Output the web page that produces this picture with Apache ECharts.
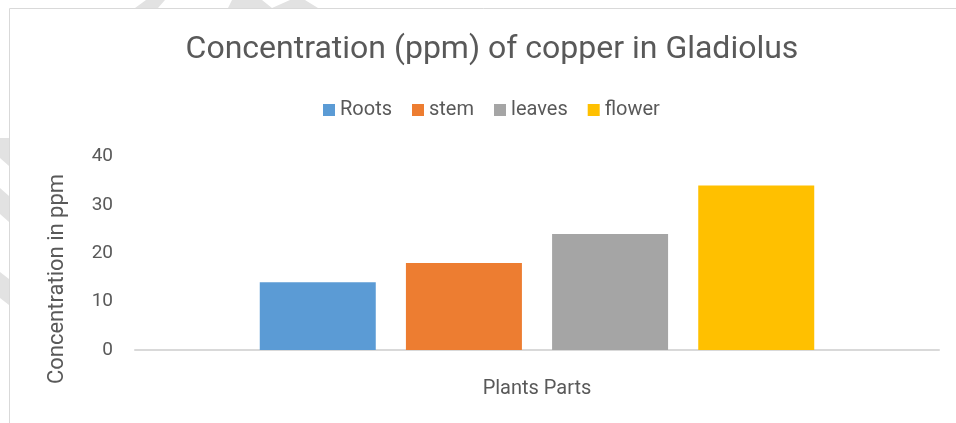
<!DOCTYPE html>
<html>
<head>
<meta charset="utf-8">
<script src="https://cdn.jsdelivr.net/npm/echarts@6/dist/echarts.min.js"></script>
<style>
  html, body { margin: 0; padding: 0; background: #fff; }
  #chart { width: 956px; height: 423px; }
</style>
</head>
<body>
<div id="chart"></div>
<script>
// data
const categories = [''];
const seriesNames = ['Roots', 'stem', 'leaves', 'flower'];
const seriesValues = [14, 18, 24, 34];
const seriesColors = ['#5B9BD5', '#ED7D31', '#A5A5A5', '#FFC000'];
const yTicks = [0, 10, 20, 30, 40];

const textColor = '#595959';
const font = 'Roboto';

// faint page watermark pieces peeking out around the chart frame
const stripes = [
  [[135, 8], [146, 0], [165, 0], [158, 8]],
  [[228, 8], [232, 0], [262, 0], [272, 8]],
  [[272, 8], [290, 0], [305, 0], [318, 8]],
  [[0, 138], [9, 138], [9, 166], [0, 158]],
  [[0, 188], [9, 196], [9, 222], [0, 214]],
  [[0, 272], [9, 279], [9, 305], [0, 298]]
];

const chart = echarts.init(document.getElementById('chart'));

const option = {
  animation: false,
  title: {
    text: 'Concentration (ppm) of copper in Gladiolus',
    left: 487,
    textAlign: 'center',
    top: 29,
    textStyle: { color: textColor, fontFamily: font, fontSize: 32, fontWeight: 'normal' }
  },
  legend: {
    top: 95,
    left: 318,
    itemWidth: 12,
    itemHeight: 12,
    itemGap: 20,
    icon: 'rect',
    textStyle: { color: textColor, fontFamily: font, fontSize: 20 }
  },
  grid: { left: 135, right: 17, top: 156.5, bottom: 73 },
  xAxis: {
    type: 'category',
    data: categories,
    name: 'Plants Parts',
    nameLocation: 'middle',
    nameGap: 29,
    nameTextStyle: { color: textColor, fontFamily: font, fontSize: 20 },
    axisLine: { lineStyle: { color: '#D9D9D9', width: 2 } },
    axisTick: { show: false },
    axisLabel: { show: false }
  },
  yAxis: {
    type: 'value',
    min: yTicks[0],
    max: yTicks[yTicks.length - 1],
    interval: yTicks[1] - yTicks[0],
    axisLine: { show: false },
    axisTick: { show: false },
    splitLine: { show: false },
    axisLabel: { color: textColor, fontFamily: font, fontSize: 19, margin: 22 }
  },
  graphic: stripes.map(pts => ({
    type: 'polygon',
    shape: { points: pts },
    style: { fill: '#E2E2E2' },
    silent: true
  })).concat([
    {
      type: 'rect',
      shape: { x: 9.5, y: 8.5, width: 1000, height: 500 },
      style: { fill: 'none', stroke: '#D9D9D9', lineWidth: 1 },
      silent: true
    },
    {
      type: 'text',
      x: 57,
      y: 279,
      rotation: Math.PI / 2,
      style: {
        text: 'Concentration in ppm',
        fill: textColor,
        font: '22px Roboto',
        align: 'center',
        verticalAlign: 'middle'
      }
    }
  ]),
  series: seriesNames.map((name, i) => ({
    name: name,
    type: 'bar',
    data: [seriesValues[i]],
    barWidth: 116,
    barGap: '26%',
    itemStyle: { color: seriesColors[i] }
  }))
};

chart.setOption(option);
</script>
</body>
</html>
